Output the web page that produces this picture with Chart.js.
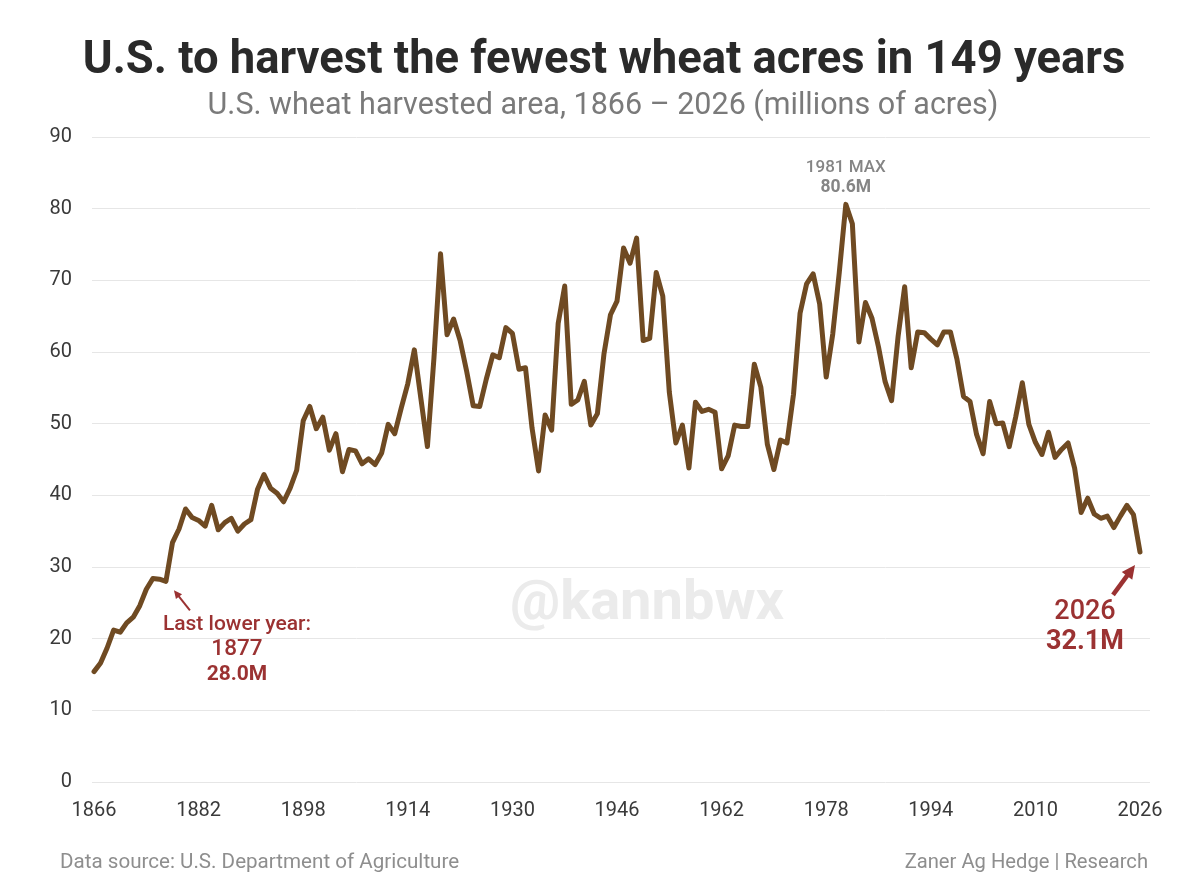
<!DOCTYPE html>
<html>
<head>
<meta charset="utf-8">
<script src="https://cdn.jsdelivr.net/npm/chart.js@4.4.1/dist/chart.umd.min.js"></script>
<style>
  html, body { margin: 0; padding: 0; background: #ffffff; }
  #wrap { width: 1200px; height: 894px; position: relative; }
</style>
</head>
<body>
<div id="wrap"><canvas id="c" width="1200" height="894"></canvas></div>
<script>
// ---------------- DATA ----------------
const START_YEAR = 1866;
// U.S. wheat harvested area, millions of acres, 1866 .. 2026
const acres = [
  // 1866-1875
  15.4, 16.6, 18.7, 21.2, 20.9, 22.2, 23.0, 24.6, 26.9, 28.4,
  // 1876-1885
  28.3, 28.0, 33.4, 35.3, 38.1, 36.9, 36.5, 35.7, 38.6, 35.2,
  // 1886-1895
  36.2, 36.8, 35.0, 36.0, 36.6, 40.8, 42.9, 41.0, 40.3, 39.1,
  // 1896-1905
  41.0, 43.5, 50.4, 52.4, 49.3, 50.9, 46.3, 48.6, 43.3, 46.4,
  // 1906-1915
  46.2, 44.4, 45.1, 44.3, 45.9, 49.9, 48.6, 52.2, 55.6, 60.3,
  // 1916-1925
  53.5, 46.8, 59.2, 73.7, 62.4, 64.6, 61.6, 57.3, 52.5, 52.4,
  // 1926-1935
  56.2, 59.6, 59.2, 63.4, 62.6, 57.6, 57.8, 49.4, 43.4, 51.2,
  // 1936-1945
  49.1, 64.0, 69.2, 52.7, 53.3, 55.9, 49.8, 51.4, 59.7, 65.2,
  // 1946-1955
  67.1, 74.5, 72.4, 75.9, 61.6, 61.9, 71.1, 67.8, 54.4, 47.3,
  // 1956-1965
  49.8, 43.8, 53.0, 51.7, 52.0, 51.6, 43.7, 45.5, 49.8, 49.6,
  // 1966-1975
  49.6, 58.3, 55.1, 47.1, 43.6, 47.7, 47.3, 54.1, 65.4, 69.5,
  // 1976-1985
  70.9, 66.7, 56.5, 62.5, 71.1, 80.6, 77.9, 61.4, 66.9, 64.7,
  // 1986-1995
  60.7, 55.9, 53.2, 62.2, 69.1, 57.8, 62.8, 62.7, 61.8, 61.0,
  // 1996-2005
  62.8, 62.8, 59.0, 53.8, 53.1, 48.5, 45.8, 53.1, 50.0, 50.1,
  // 2006-2015
  46.8, 51.0, 55.7, 49.9, 47.4, 45.7, 48.8, 45.3, 46.4, 47.3,
  // 2016-2025
  43.8, 37.6, 39.6, 37.4, 36.8, 37.1, 35.5, 37.1, 38.6, 37.3,
  // 2026
  32.1
];
const years = acres.map((_, i) => START_YEAR + i);
const xTickYears = [1866, 1882, 1898, 1914, 1930, 1946, 1962, 1978, 1994, 2010, 2026];
const yTickValues = [0, 10, 20, 30, 40, 50, 60, 70, 80, 90];

const titleText = 'U.S. to harvest the fewest wheat acres in 149 years';
const subtitleText = 'U.S. wheat harvested area, 1866 \u2013 2026 (millions of acres)';
const sourceText = 'Data source: U.S. Department of Agriculture';
const creditText = 'Zaner Ag Hedge | Research';
const watermarkText = '@kannbwx';
const maxYear = 1981, maxLabel = ['1981 MAX', '80.6M'];
const lowYear = 1877, lowLabel = ['Last lower year:', '1877', '28.0M'];
const lastYear = 2026, lastLabel = ['2026', '32.1M'];

// ---------------- STYLE ----------------
const FONT = 'Roboto, "Open Sans", "Noto Sans", sans-serif';
const LINE_COLOR = '#6f4a22';
const RED = '#9b3232';

function drawArrow(ctx, x1, y1, x2, y2, w, head, color) {
  const ang = Math.atan2(y2 - y1, x2 - x1);
  ctx.save();
  ctx.strokeStyle = color; ctx.fillStyle = color; ctx.lineWidth = w; ctx.lineCap = 'butt';
  ctx.beginPath();
  ctx.moveTo(x1, y1);
  ctx.lineTo(x2 - Math.cos(ang) * head * 0.8, y2 - Math.sin(ang) * head * 0.8);
  ctx.stroke();
  ctx.beginPath();
  ctx.moveTo(x2, y2);
  ctx.lineTo(x2 - head * Math.cos(ang - 0.45), y2 - head * Math.sin(ang - 0.45));
  ctx.lineTo(x2 - head * Math.cos(ang + 0.45), y2 - head * Math.sin(ang + 0.45));
  ctx.closePath();
  ctx.fill();
  ctx.restore();
}

const decor = {
  id: 'decor',
  beforeDatasetsDraw(chart) {
    const ctx = chart.ctx;
    ctx.save();
    ctx.font = `700 56px ${FONT}`;
    ctx.fillStyle = '#ebebeb';
    ctx.textAlign = 'center'; ctx.textBaseline = 'middle';
    ctx.fillText(watermarkText, 647, 605);
    ctx.restore();
  },
  afterDraw(chart) {
    const ctx = chart.ctx;
    const xs = chart.scales.x, ys = chart.scales.y;
    const px = yr => xs.getPixelForValue(yr);
    const py = yr => ys.getPixelForValue(acres[yr - START_YEAR]);
    ctx.save();
    ctx.textAlign = 'center'; ctx.textBaseline = 'middle';
    // title
    ctx.fillStyle = '#2a2a2a';
    ctx.font = `700 45.4px ${FONT}`;
    ctx.fillText(titleText, 604, 62);
    ctx.fillStyle = '#7a7a7a';
    ctx.font = `400 30.5px ${FONT}`;
    ctx.fillText(subtitleText, 603, 106);
    // footer
    ctx.fillStyle = '#8e8e8e';
    ctx.font = `400 20.6px ${FONT}`;
    ctx.textAlign = 'left';
    ctx.fillText(sourceText, 60, 863);
    ctx.font = `400 20.2px ${FONT}`;
    ctx.textAlign = 'right';
    ctx.fillText(creditText, 1148, 863);
    ctx.textAlign = 'center';

    // max label
    const mx = px(maxYear), my = py(maxYear);
    ctx.fillStyle = '#858585';
    ctx.font = `500 17px ${FONT}`;
    ctx.fillText(maxLabel[0], mx, my - 37);
    ctx.font = `700 17.5px ${FONT}`;
    ctx.fillText(maxLabel[1], mx, my - 17);

    // low label
    const lx = px(lowYear), ly = py(lowYear);
    drawArrow(ctx, lx + 24, ly + 29, lx + 8, ly + 9, 2, 9, RED);
    ctx.fillStyle = RED;
    ctx.font = `500 21px ${FONT}`;
    ctx.fillText(lowLabel[0], lx + 71, ly + 43);
    ctx.font = `500 22.5px ${FONT}`;
    ctx.fillText(lowLabel[1], lx + 71, ly + 68);
    ctx.font = `700 21px ${FONT}`;
    ctx.fillText(lowLabel[2], lx + 71, ly + 93);

    // last label
    const rx = px(lastYear), ry = py(lastYear);
    drawArrow(ctx, rx - 27, ry + 43, rx - 5, ry + 13, 4.5, 15, RED);
    ctx.fillStyle = RED;
    ctx.font = `500 27px ${FONT}`;
    ctx.fillText(lastLabel[0], rx - 55, ry + 60);
    ctx.font = `700 27px ${FONT}`;
    ctx.fillText(lastLabel[1], rx - 55, ry + 90);
    ctx.restore();
  }
};

new Chart(document.getElementById('c'), {
  type: 'line',
  data: {
    datasets: [{
      data: years.map((y, i) => ({ x: y, y: acres[i] })),
      borderColor: LINE_COLOR,
      borderWidth: 5,
      pointRadius: 0,
      tension: 0,
      borderJoinStyle: 'round',
      borderCapStyle: 'round',
      clip: false
    }]
  },
  options: {
    responsive: false,
    animation: false,
    devicePixelRatio: 1,
    layout: { padding: { left: 0, right: 50, top: 137, bottom: 0 } },
    plugins: { legend: { display: false }, tooltip: { enabled: false }, title: { display: false } },
    scales: {
      x: {
        type: 'linear',
        min: 1865.69,
        max: 2027.53,
        grid: { display: false, drawTicks: false },
        border: { display: false },
        afterBuildTicks: s => { s.ticks = xTickYears.map(v => ({ value: v })); },
        afterFit: s => { s.height = 112; },
        ticks: {
          padding: 17, autoSkip: false, maxRotation: 0, color: '#3a3a3a',
          font: { family: FONT, size: 20 },
          callback: v => String(v)
        }
      },
      y: {
        min: 0, max: 90,
        afterBuildTicks: s => { s.ticks = yTickValues.map(v => ({ value: v })); },
        afterFit: s => { s.width = 92; },
        grid: { color: '#e6e6e6', lineWidth: 1, drawTicks: false },
        border: { display: false },
        ticks: { padding: 20, color: '#3a3a3a', font: { family: FONT, size: 20 } }
      }
    }
  },
  plugins: [decor]
});
</script>
</body>
</html>
